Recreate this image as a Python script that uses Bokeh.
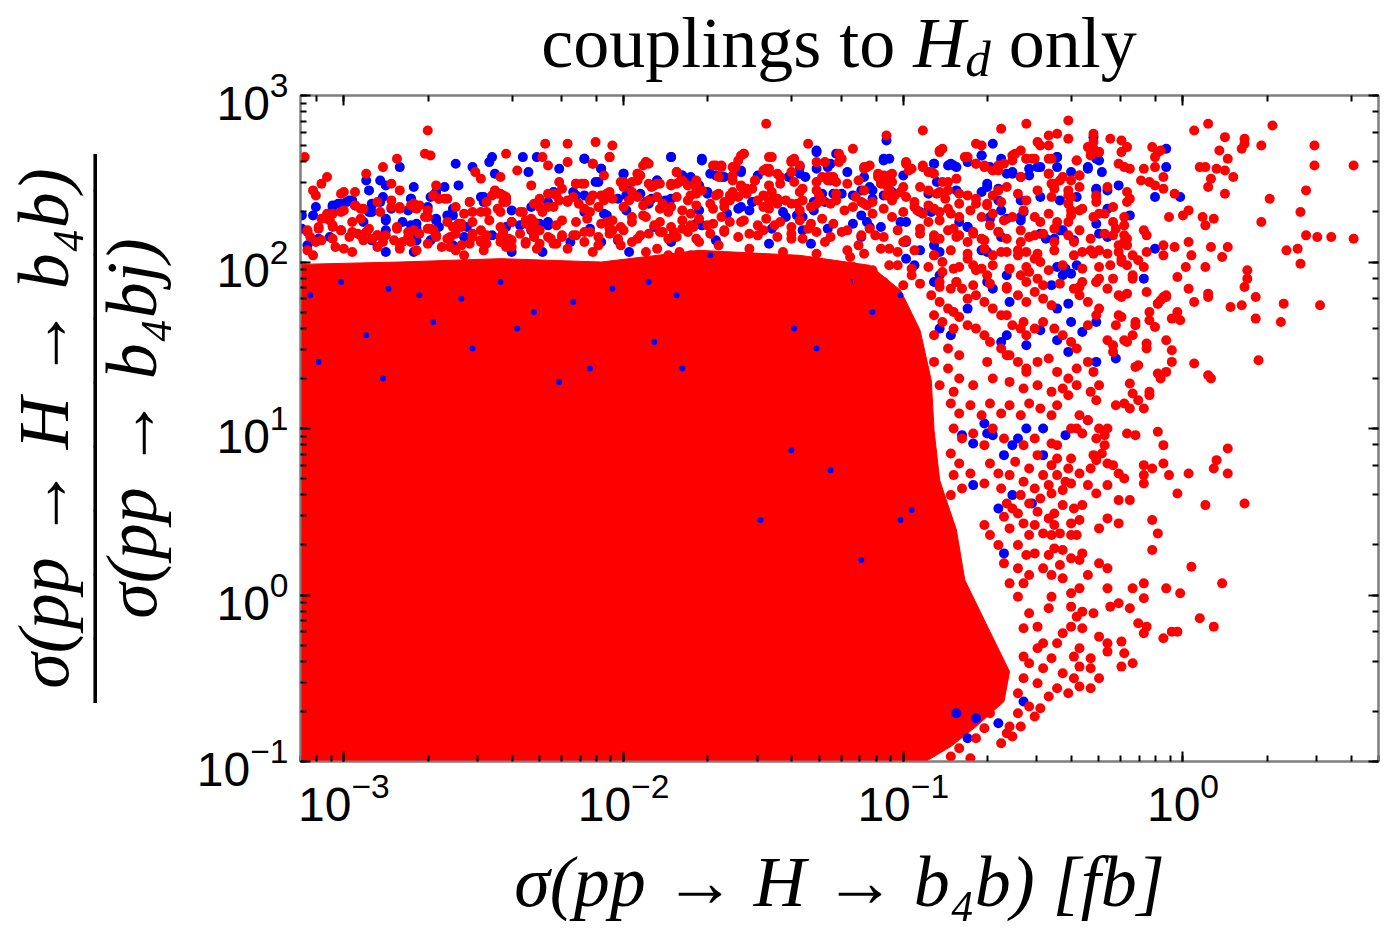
from bokeh.plotting import figure
from bokeh.models import LogAxis, Range1d, Div
from bokeh.layouts import column
from bokeh.embed import file_html
from bokeh.resources import INLINE

# ---- data: (log10 sigma [fb], log10 ratio) ----
core_outline = [(-3.3, -1.1), (-3.3, 1.98), (-2.80, 2.00), (-2.44, 2.02), (-2.08, 2.00), (-1.73, 2.07),
                (-1.37, 2.04), (-1.12, 1.98), (-1.01, 1.83), (-0.94, 1.59), (-0.90, 1.29), (-0.89, 0.99),
                (-0.87, 0.69), (-0.81, 0.39), (-0.78, 0.09), (-0.69, -0.22), (-0.62, -0.46), (-0.64, -0.64),
                (-0.74, -0.79), (-0.83, -0.91), (-0.92, -1.00), (-0.96, -1.1)]

red_band_left = [(-2.70,2.79),(-2.71,2.65),(-2.69,2.64),(-3.14,2.63),(-2.81,2.62),(-2.86,2.57),(-2.28,2.71),(-2.20,2.71),(-2.10,2.72),(-2.04,2.70),(-2.42,2.65),(-2.29,2.63),(-2.27,2.58),(-2.20,2.60),(-2.11,2.59),(-2.05,2.63),(-1.92,2.60),(-1.91,2.59),(-1.93,2.58),(-1.81,2.54),(-2.92,2.53),(-3.06,2.51),(-3.08,2.47),(-3.11,2.43),(-3.10,2.40),(-3.01,2.41),(-3.00,2.42),(-2.96,2.42),(-2.83,2.47),(-2.80,2.43),(-2.67,2.46),(-2.53,2.54),(-2.51,2.50),(-2.44,2.51),(-2.38,2.55),(-2.33,2.46),(-2.46,2.43),(-2.44,2.41),(-2.43,2.40),(-2.23,2.48),(-2.22,2.44),(-2.17,2.47),(-2.15,2.47),(-2.11,2.40),(-2.08,2.40),(-2.05,2.42),(-2.01,2.48),(-2.00,2.45),(-1.97,2.42),(-1.94,2.52),(-1.95,2.53),(-1.89,2.46),(-1.87,2.47),(-1.83,2.46),(-1.80,2.48),(-1.77,2.46),(-1.76,2.40),(-1.74,2.44),(-1.79,2.31),(-1.76,2.29),(-1.87,2.32),(-1.84,2.30),(-1.97,2.27),(-1.93,2.28),(-2.06,2.24),(-2.04,2.19),(-2.12,2.30),(-2.14,2.32),(-2.20,2.36),(-2.24,2.40),(-2.25,2.33),(-2.30,2.38),(-2.27,2.33),(-2.29,2.30),(-2.37,2.30),(-2.33,2.26),(-2.35,2.23),(-2.32,2.24),(-2.44,2.30),(-2.43,2.36),(-2.51,2.30),(-2.49,2.30),(-2.55,2.36),(-2.57,2.29),(-2.59,2.23),(-2.58,2.21),(-2.68,2.40),(-2.66,2.38),(-2.64,2.38),(-2.75,2.35),(-2.76,2.34),(-2.74,2.32),(-2.83,2.37),(-2.80,2.32),(-2.88,2.36),(-2.87,2.30),(-2.93,2.32),(-2.96,2.34),(-2.94,2.26),(-3.01,2.30),(-3.04,2.29),(-3.06,2.26),(-3.05,2.25),(-3.09,2.20),(-3.13,2.18),(-3.13,2.07),(-3.11,2.04),(-3.04,2.21),(-3.01,2.19),(-3.04,2.14),(-3.00,2.08),(-2.97,2.06),(-2.97,2.18),(-2.94,2.16),(-2.92,2.18),(-2.90,2.14),(-2.88,2.16),(-2.86,2.12),(-2.85,2.16),(-2.81,2.20),(-2.77,2.18),(-2.79,2.12),(-2.80,2.08),(-2.75,2.19),(-2.76,2.12),(-2.74,2.07),(-2.71,2.27),(-2.69,2.20),(-2.67,2.16),(-2.63,2.14),(-2.62,2.09),(-2.60,2.07),(-2.58,2.10),(-2.57,2.04),(-2.54,2.15),(-2.51,2.12),(-2.49,2.16),(-2.50,2.07),(-2.43,2.18),(-2.41,2.14),(-2.40,2.09),(-2.44,2.12),(-2.33,2.20),(-2.32,2.16),(-2.35,2.11),(-2.31,2.08),(-2.26,2.14),(-2.24,2.11),(-2.22,2.16),(-2.20,2.08),(-2.17,2.16),(-2.14,2.12),(-2.12,2.18),(-2.09,2.10),(-2.11,2.06),(-2.05,2.20),(-2.02,2.14),(-2.01,2.10),(-1.97,2.12),(-1.94,2.16),(-1.89,2.22),(-1.87,2.18),(-1.84,2.14),(-1.82,2.18),(-1.79,2.20),(-1.75,2.21),(-1.92,2.06),(-1.88,2.08),(-1.84,2.04),(-1.80,2.06),(-1.76,2.04),(-1.74,2.34),(-1.73,2.12)]

red_band_left_dense = [(-3.00,2.31),(-3.06,2.29),(-3.08,2.26),(-2.94,2.32),(-2.83,2.33),(-2.80,2.33),(-2.75,2.35),(-2.73,2.34),(-2.70,2.31),(-2.68,2.40),(-2.66,2.38),(-2.63,2.38),(-2.70,2.27),(-2.60,2.33),(-2.55,2.36),(-2.49,2.36),(-2.54,2.30),(-2.47,2.40),(-2.45,2.41),(-2.42,2.39),(-2.42,2.36),(-2.45,2.32),(-2.36,2.30),(-2.32,2.35),(-2.30,2.33),(-2.27,2.41),(-2.25,2.41),(-2.23,2.37),(-2.20,2.37),
                       (-3.13,2.19),(-3.09,2.21),(-3.04,2.22),(-3.01,2.19),(-2.97,2.24),(-2.91,2.20),(-2.81,2.21),(-2.70,2.20),(-2.68,2.19),(-2.63,2.24),(-2.61,2.21),(-2.58,2.23),(-2.54,2.24),(-2.51,2.19),(-2.48,2.25),(-2.44,2.21),(-2.40,2.24),(-2.35,2.25),(-2.32,2.21),(-2.30,2.19),(-2.24,2.22),(-2.22,2.25),
                       (-3.12,2.15),(-3.10,2.12),(-3.08,2.13),(-3.03,2.09),(-2.98,2.15),(-2.95,2.17),(-2.93,2.13),(-2.88,2.16),(-2.88,2.09),(-2.82,2.13),(-2.80,2.11),(-2.77,2.15),(-2.73,2.17),(-2.70,2.11),(-2.67,2.15),(-2.65,2.09),(-2.62,2.15),(-2.60,2.17),(-2.55,2.11),(-2.54,2.17),(-2.51,2.13),(-2.49,2.11),(-2.44,2.15),(-2.42,2.09),(-2.40,2.13),(-2.37,2.17),(-2.35,2.12),(-2.32,2.15),(-2.30,2.11),(-2.27,2.15),(-2.25,2.11),(-2.22,2.15)]

red_band_mid = [(-1.49,2.83),(-0.93,2.79),(-1.06,2.76),(-1.34,2.71),(-1.18,2.68),(-0.74,2.71),(-0.72,2.70),(-0.86,2.68),(-0.87,2.66),(-1.57,2.65),(-1.59,2.61),(-1.60,2.57),(-1.47,2.63),(-1.39,2.62),(-1.40,2.60),(-1.22,2.62),(-1.23,2.60),(-1.28,2.60),(-1.67,2.58),(-1.65,2.57),(-1.49,2.56),(-1.48,2.54),(-1.44,2.51),(-1.40,2.54),(-1.39,2.48),(-1.13,2.57),(-1.14,2.56),(-1.09,2.53),(-1.08,2.49),(-0.99,2.60),(-0.98,2.55),(-0.93,2.58),(-0.91,2.54),(-0.89,2.53),(-1.05,2.52),(-1.04,2.48),(-1.06,2.46),(-0.78,2.63),(-0.74,2.59),(-0.71,2.57),(-0.68,2.55),(-0.66,2.58),(-0.86,2.48),(-0.84,2.43),(-0.87,2.42),(-0.85,2.38),(-1.61,2.52),(-1.58,2.46),(-1.56,2.44),(-1.53,2.49),(-1.54,2.44),(-1.67,2.40),(-1.68,2.32),(-1.64,2.36),(-1.62,2.40),(-1.61,2.42),(-1.50,2.40),(-1.47,2.42),(-1.45,2.38),(-1.47,2.37),(-1.48,2.32),(-1.40,2.35),(-1.37,2.31),(-1.36,2.44),(-1.31,2.43),(-1.30,2.40),(-1.27,2.49),(-1.25,2.51),(-1.24,2.41),(-1.17,2.39),(-1.15,2.36),(-1.13,2.34),(-1.11,2.36),(-1.06,2.40),(-1.05,2.43),(-1.03,2.40),(-1.01,2.42),(-0.96,2.36),(-0.95,2.31),(-0.91,2.34),(-0.87,2.30),(-0.84,2.32),(-0.80,2.35),(-0.77,2.40),(-0.74,2.38),(-0.70,2.34),(-0.68,2.40),(-0.65,2.36),(-0.94,2.20),(-0.91,2.24),(-0.89,2.16),(-0.87,2.14),(-0.82,2.20),(-0.80,2.16),(-0.77,2.12),(-0.75,2.18),(-0.72,2.14),(-0.69,2.22),(-0.66,2.18),(-0.77,2.02),(-0.75,1.98),(-0.72,1.96),(-0.70,1.92),(-0.68,2.04),(-0.81,1.88),(-0.79,1.84),(-0.77,1.78),(-0.74,1.80),(-0.71,1.76),(-0.68,1.72),(-0.65,1.68),(-0.58,1.60),(-0.56,1.56),(-0.82,1.70),(-0.80,1.67),(-0.77,1.62),(-0.74,1.60),(-0.71,1.56),(-0.69,1.52),(-0.65,1.48),(-0.62,1.44),(-0.56,1.34),(-0.89,2.04),(-0.86,2.00),(-0.82,1.96),(-0.87,1.88),(-0.83,1.84),(-0.90,1.80),(-0.87,1.76),(-0.84,1.72),(-0.89,1.68),(-0.86,1.64),(-0.82,1.60),(-0.89,1.56),(-0.84,1.48),(-0.80,1.44),(-0.89,1.40),(-0.84,1.36),(-0.80,1.30),(-0.75,1.26),(-0.87,1.26),(-0.82,1.22),(-0.70,1.40),(-0.68,1.30),(-1.70,2.22),(-1.64,2.18),(-1.58,2.24),(-1.52,2.16),(-1.46,2.22),(-1.40,2.14),(-1.34,2.20),(-1.28,2.12),(-1.22,2.18),(-1.16,2.10),(-1.10,2.16),(-1.05,2.08),(-1.66,2.10),(-1.55,2.08),(-1.43,2.06),(-1.31,2.05),(-1.19,2.03),(-1.00,2.12),(-1.02,1.98),(-0.97,1.92)]

red_band_mid_dense = [(-2.05,2.63),(-2.11,2.59),(-1.92,2.60),(-1.95,2.53),(-1.81,2.54),(-1.68,2.58),(-1.65,2.58),(-1.61,2.57),(-1.58,2.64),(-1.57,2.65),(-1.48,2.63),(-1.50,2.55),(-1.48,2.56),(-1.45,2.53),(-1.40,2.61),(-1.37,2.58),(-1.31,2.60),(-1.27,2.51),
                      (-2.17,2.47),(-2.14,2.47),(-2.07,2.52),(-2.00,2.48),(-1.97,2.48),(-1.95,2.49),(-1.91,2.47),(-1.90,2.45),(-1.88,2.47),(-1.83,2.47),(-1.81,2.47),(-1.79,2.49),(-1.74,2.49),(-1.74,2.47),(-1.66,2.51),(-1.66,2.41),(-1.61,2.49),(-1.58,2.45),(-1.57,2.42),(-1.53,2.49),(-1.48,2.46),(-1.44,2.47),(-1.37,2.42),(-1.31,2.48),(-1.29,2.51),(-1.26,2.51),(-1.24,2.48),
                      (-2.18,2.39),(-2.16,2.35),(-2.12,2.37),(-2.09,2.33),(-2.07,2.37),(-2.06,2.41),(-2.04,2.38),(-2.00,2.33),(-1.98,2.37),(-1.95,2.39),(-1.93,2.34),(-1.91,2.37),(-1.88,2.39),(-1.86,2.35),(-1.83,2.33),(-1.81,2.39),(-1.77,2.37),(-1.74,2.41),(-1.72,2.43),(-1.69,2.35),(-1.64,2.33),(-1.62,2.37),(-1.59,2.39),(-1.56,2.41),(-1.52,2.37),(-1.50,2.33),(-1.48,2.37),(-1.45,2.35),(-1.42,2.37),(-1.38,2.35),(-1.36,2.37),(-1.33,2.33),(-1.31,2.35),(-1.29,2.37),(-1.26,2.35),(-1.24,2.37),
                      (-2.17,2.24),(-2.13,2.26),(-2.08,2.23),(-2.04,2.25),(-2.01,2.21),(-1.97,2.24),(-1.92,2.27),(-1.87,2.24),(-1.83,2.21),(-1.79,2.25),(-1.76,2.22),(-1.73,2.26),(-1.68,2.23),(-1.65,2.27),(-1.62,2.24),(-1.57,2.25),(-1.52,2.22),(-1.49,2.26),(-1.44,2.24),(-1.40,2.21),(-1.37,2.25),(-1.33,2.23),(-1.29,2.26),(-1.25,2.23),
                      (-2.18,2.16),(-2.14,2.18),(-2.09,2.15),(-2.05,2.17),(-2.00,2.19),(-1.95,2.14),(-1.91,2.17),(-1.86,2.18),(-1.81,2.15),(-1.77,2.18),(-1.74,2.14),(-1.69,2.17),(-1.64,2.19),(-1.59,2.15),(-1.55,2.17),(-1.50,2.19),(-1.45,2.15),(-1.40,2.17),(-1.36,2.14),(-1.31,2.18),(-1.26,2.15)]

red_band_right_dense = [(-1.23,2.65),(-1.14,2.57),(-1.12,2.58),(-1.07,2.52),(-1.04,2.53),(-1.05,2.48),(-0.99,2.59),(-0.97,2.56),(-0.93,2.57),(-0.90,2.54),(-0.87,2.67),(-0.77,2.63),(-0.74,2.59),(-0.71,2.58),(-0.66,2.55),(-0.64,2.59),(-0.61,2.64),(-0.56,2.62),(-0.53,2.62),(-0.58,2.51),(-0.47,2.62),(-0.48,2.53),(-0.46,2.47),(-0.38,2.61),(-0.37,2.52),(-0.33,2.67),(-0.30,2.66),
                        (-1.20,2.47),(-1.16,2.49),(-1.14,2.43),(-1.09,2.51),(-1.08,2.47),(-1.05,2.41),(-1.04,2.37),(-1.00,2.45),(-0.99,2.39),(-0.94,2.45),(-0.91,2.43),(-0.88,2.41),(-0.84,2.48),(-0.81,2.50),(-0.80,2.41),(-0.74,2.35),(-0.70,2.35),(-0.66,2.43),(-0.63,2.45),(-0.59,2.41),(-0.56,2.37),(-0.52,2.43),(-0.47,2.39),(-0.41,2.43),(-0.40,2.39),(-0.37,2.45),(-0.31,2.39),(-0.27,2.45),
                        (-1.21,2.31),(-1.18,2.33),(-1.14,2.35),(-1.11,2.29),(-1.07,2.32),(-1.04,2.27),(-1.00,2.30),(-0.96,2.33),(-0.93,2.29),(-0.89,2.32),(-0.87,2.25),(-0.83,2.29),(-0.80,2.27),(-0.76,2.31),(-0.72,2.27),(-0.68,2.29),(-0.64,2.25),(-0.61,2.27),(-0.57,2.31),(-0.53,2.27),(-0.48,2.29),(-0.45,2.24),(-0.40,2.28),(-0.37,2.31),(-0.32,2.27),(-0.28,2.29),
                        (-1.20,2.19),(-1.15,2.16),(-1.12,2.20),(-1.07,2.15),(-1.02,2.19),(-0.99,2.13),(-0.94,2.17),(-0.89,2.14),(-0.84,2.19),(-0.81,2.15),(-0.75,2.17),(-0.71,2.13),(-0.66,2.18),(-0.63,2.14),(-0.58,2.19),(-0.55,2.15),(-0.50,2.17),(-0.46,2.12),(-0.41,2.16),(-0.37,2.19),(-0.33,2.14),(-0.28,2.17),
                        (-1.20,2.07),(-1.14,2.05),(-1.08,2.08),(-1.02,2.06),(-0.96,2.07),(-0.89,2.04),(-0.83,2.07),(-0.77,2.05),(-0.71,2.08),(-0.65,2.06),(-0.59,2.07),(-0.52,2.05),(-0.46,2.07),(-0.39,2.04),(-0.33,2.07),(-0.27,2.05),
                        (-1.18,1.97),(-1.11,1.95),(-1.05,1.98),(-0.97,1.96),(-0.91,1.97),(-0.86,1.94),(-0.80,1.97),(-0.74,1.95),(-0.68,1.98),(-0.62,1.96),(-0.56,1.97),(-0.48,1.95),(-0.43,1.98),(-0.36,1.96),(-0.30,1.97),
                        (-1.20,1.87),(-1.13,1.85),(-1.07,1.88),(-1.00,1.86),(-0.94,1.87),(-0.87,1.85),(-0.81,1.88),(-0.75,1.86),(-0.69,1.87),(-0.63,1.85),(-0.56,1.88),(-0.50,1.86),(-0.44,1.87),(-0.37,1.85),(-0.31,1.88)]

red_upper_right = [(-0.56,2.83),(-0.41,2.85),(-0.48,2.76),(-0.45,2.77),(-0.41,2.74),(-0.52,2.72),(-0.51,2.70),(-0.48,2.70),(-0.32,2.77),(-0.32,2.72),(-0.32,2.68),(-0.34,2.69),(-0.33,2.64),(-0.30,2.66),(-0.26,2.74),(-0.22,2.73),(-0.20,2.69),(-0.22,2.66),(-0.11,2.69),(-0.09,2.66),(-0.08,2.67),(-0.10,2.63),(-0.65,2.80),(-0.60,2.65),(-0.58,2.67),(-0.56,2.62),(-0.54,2.62),(-0.61,2.61),(-0.48,2.62),(-0.48,2.53),(-0.44,2.49),(-0.43,2.51),(-0.47,2.47),(-0.46,2.44),(-0.38,2.61),(-0.37,2.52),(-0.40,2.49),(-0.23,2.59),(-0.21,2.57),(-0.19,2.56),(-0.14,2.56),(-0.15,2.49),(-0.12,2.48),(-0.10,2.46),(-0.07,2.51),(-0.07,2.44),(-0.10,2.57),(-0.20,2.42),(-0.19,2.38),(-0.20,2.36),(-0.25,2.33),(-0.30,2.29),(-0.03,2.41),(-0.31,2.40),(-0.31,2.36),(-0.41,2.35),(-0.41,2.40),(-0.40,2.31),(-0.36,2.32),(-0.21,2.27),(-0.21,2.22),(-0.21,2.16),(-0.20,2.14),(-0.21,2.12),(-0.20,2.10),(-0.14,2.19),(-0.13,2.16),(-0.13,2.06),(-0.18,2.04),(-0.16,2.01),(-0.14,1.97),(-0.22,2.00),(-0.20,1.98),(-0.18,1.92),(-0.18,1.90),(-0.25,2.24),(-0.24,2.20),(-0.25,2.16),(-0.23,2.10),(-0.23,2.06),(-0.22,2.02),(-0.30,2.07),(-0.26,1.98),(-0.32,2.05),(-0.30,1.90),(-0.31,1.88),(-0.27,1.84),(-0.25,1.90),(-0.23,1.80),(-0.22,1.79),(-0.20,1.81),(-0.13,1.82),(-0.09,1.75),(-0.07,1.79),(-0.06,1.79),(-0.23,1.68),(-0.22,1.67),(-0.24,1.62),(-0.30,1.72),(-0.31,1.68),(-0.34,1.62),(-0.27,1.53),(-0.25,1.50),(-0.25,1.46),(-0.18,1.56),(-0.21,1.53),(-0.20,1.52),(-0.63,2.06),(-0.59,2.04),(-0.56,2.06),(-0.53,2.02),(-0.51,2.00),(-0.62,1.96),(-0.58,1.92),(-0.55,1.94),(-0.52,1.90),(-0.63,1.84),(-0.59,1.80),(-0.56,1.76),(-0.53,1.82),(-0.50,1.78),(-0.47,1.74),(-0.39,1.84),(-0.37,1.80),(-0.34,1.76),(-0.36,1.88),(-0.63,1.68),(-0.61,1.62),(-0.57,1.64),(-0.53,1.60),(-0.50,1.64),(-0.46,1.60),(-0.43,1.56),(-0.40,1.52),(-0.38,1.48),(-0.63,1.44),(-0.59,1.40),(-0.56,1.36),(-0.52,1.40),(-0.48,1.42),(-0.45,1.34),(-0.41,1.30),(-0.38,1.36),(-0.34,1.40),(-0.32,1.34),(-0.62,1.28),(-0.57,1.24),(-0.52,1.26),(-0.47,1.22),(-0.43,1.24),(-0.38,1.26),(-0.33,1.22),(-0.30,1.26),(-0.46,2.20),(-0.41,2.24),(-0.39,2.12),(-0.36,2.06),(-0.51,2.24),(-0.53,2.16),(-0.58,2.12)]

red_far_right = [(0.04,2.79),(0.09,2.83),(0.32,2.82),(0.15,2.75),(0.22,2.74),(0.22,2.71),(0.21,2.68),(0.28,2.70),(0.47,2.70),(0.13,2.67),(0.16,2.62),(0.06,2.57),(0.08,2.57),(0.12,2.56),(0.15,2.55),(0.18,2.51),(0.10,2.50),(0.47,2.58),(0.61,2.58),(0.09,2.45),(0.15,2.41),(0.44,2.43),(0.31,2.38),(0.02,2.31),(0.00,2.28),(0.07,2.27),(0.11,2.26),(0.08,2.22),(-0.05,2.27),(0.42,2.30),(0.28,2.24),(0.44,2.16),(0.48,2.15),(0.53,2.15),(0.61,2.14),(0.02,2.12),(0.10,2.09),(0.16,2.09),(-0.03,2.09),(-0.07,2.10),(-0.07,2.04),(0.03,2.04),(0.14,2.03),(0.37,2.07),(0.41,2.08),(0.42,1.99),(0.01,1.97),(0.08,1.97),(-0.02,1.91),(0.23,1.95),(0.23,1.90),(0.22,1.85),(0.02,1.84),(0.09,1.81),(0.09,1.79),(0.04,1.76),(0.26,1.79),(0.17,1.73),(0.21,1.74),(0.36,1.75),(0.49,1.74),(0.26,1.66),(0.35,1.64),(-0.06,1.80),(-0.08,1.77),(-0.09,1.75),(-0.02,1.70),(-0.01,1.65),(-0.04,1.66),(-0.12,1.70),(-0.12,1.65),(-0.17,1.64),(-0.17,1.62),(-0.10,1.61),(-0.06,1.53),(-0.04,1.47),(-0.04,1.40),(0.04,1.39),(0.27,1.41),(0.09,1.32),(0.10,1.30),(-0.06,1.34),(-0.09,1.33),(-0.08,1.30),(-0.17,1.37),(-0.16,1.38),(-0.13,1.51),(-0.13,1.48),(-0.19,1.27),(-0.12,1.22),(-0.18,1.21)]

red_lower_right = [(-0.31,1.17),(-0.24,1.14),(-0.21,1.15),(-0.19,1.12),(-0.16,1.17),(-0.14,1.12),(-0.12,1.20),(-0.41,1.20),(-0.37,1.08),(-0.34,1.05),(-0.38,1.00),(-0.30,1.00),(-0.27,1.00),(-0.28,0.96),(-0.31,0.94),(-0.20,0.97),(-0.17,0.96),(-0.09,0.98),(0.16,0.88),(-0.07,0.90),(-0.28,0.90),(-0.29,0.85),(-0.32,0.84),(-0.31,0.81),(-0.40,1.00),(-0.36,0.97),(-0.45,0.90),(-0.47,0.91),(-0.40,0.82),(-0.45,0.82),(-0.47,0.78),(-0.41,0.76),(-0.37,0.73),(-0.33,0.76),(-0.27,0.79),(-0.25,0.78),(-0.23,0.73),(-0.21,0.70),(-0.14,0.78),(-0.14,0.72),(-0.14,0.67),(-0.11,0.76),(-0.07,0.79),(-0.05,0.72),(0.02,0.73),(0.12,0.81),(0.11,0.76),(0.16,0.73),(-0.02,0.61),(0.08,0.54),(0.22,0.55),(-0.23,0.57),(-0.19,0.57),(-0.31,0.61),(-0.27,0.66),(-0.34,0.66),(-0.43,0.63),(-0.40,0.67),(-0.36,0.54),(-0.47,0.61),(-0.51,0.58),(-0.55,0.55),(-0.43,0.54),(-0.39,0.52),(-0.37,0.45),(-0.40,0.43),(-0.46,0.49),(-0.48,0.46),(-0.50,0.37),(-0.47,0.36),(-0.44,0.37),(-0.40,0.36),(-0.38,0.36),(-0.36,0.25),(-0.27,0.46),(-0.23,0.43),(-0.30,0.40),(-0.11,0.45),(-0.09,0.37),(-0.11,0.27),(0.03,0.17),(-0.27,0.16),(-0.30,0.19),(-0.34,0.12),(-0.37,0.21),(-0.40,0.22),(-0.43,0.27),(-0.46,0.28),(-0.48,0.24),(-0.53,0.25),(-0.55,0.12),(-0.50,0.16),(-0.44,0.18),(-0.47,0.12),(-0.43,0.10),(-0.37,0.04),(-0.40,0.01),(-0.27,0.04),(-0.26,-0.07),(-0.23,-0.05),(-0.19,-0.08),(-0.18,0.04),(-0.14,0.07),(-0.14,-0.02),(-0.06,0.04),(-0.01,0.01),(0.14,0.07),(0.06,-0.14),(0.11,-0.19),(-0.16,-0.17),(-0.13,-0.19),(-0.14,-0.23),(-0.04,-0.22),(-0.07,-0.26),(-0.02,-0.22),(-0.30,-0.25),(-0.27,-0.29),(-0.22,-0.28),(-0.27,-0.34),(-0.21,-0.35),(-0.32,-0.11),(-0.36,-0.10),(-0.38,-0.13),(-0.36,-0.20),(-0.40,-0.07),(-0.47,-0.01),(-0.48,-0.08),(-0.40,-0.19),(-0.43,-0.23),(-0.45,-0.29),(-0.37,-0.32),(-0.39,-0.37),(-0.33,-0.38),(-0.37,-0.43),(-0.33,-0.44),(-0.22,-0.43),(-0.18,-0.41),(-0.43,-0.47),(-0.39,-0.50),(-0.37,-0.55),(-0.33,-0.56),(-0.30,-0.50),(-0.47,-0.38),(-0.50,-0.44),(-0.52,-0.53),(-0.48,-0.61),(-0.45,-0.56),(-0.41,-0.59),(-0.55,-0.67),(-0.51,-0.68),(-0.53,-0.73),(-0.59,-0.71),(-0.62,-0.79),(-0.58,-0.79),(-0.65,-0.89),(-0.63,-0.83),(-0.61,-0.85),(-0.76,-0.98),(-0.83,-0.97),(-0.69,0.79),(-0.66,0.73),(-0.71,0.67),(-0.65,0.64),(-0.63,0.55),(-0.59,0.49),(-0.57,0.43),(-0.55,0.36),(-0.59,0.30),(-0.56,0.24),(-0.71,0.42),(-0.69,0.36),(-0.66,0.30),(-0.64,0.19),(-0.59,0.16),(-0.57,0.07),(-0.62,0.07),(-0.59,-0.01),(-0.55,-0.11),(-0.52,-0.19),(-0.57,-0.20),(-0.50,-0.29),(-0.52,-0.32),(-0.57,-0.37),(-0.55,-0.41),(-0.57,-0.50),(-0.59,-0.59),(-0.69,-0.71),(-0.71,-0.80),(-0.74,-0.86),(-0.80,-0.92),(-0.83,1.15),(-0.80,1.09),(-0.76,1.14),(-0.72,1.08),(-0.69,1.15),(-0.65,1.09),(-0.62,1.14),(-0.58,1.08),(-0.55,1.15),(-0.51,1.12),(-0.47,1.08),(-0.45,1.14),(-0.82,1.00),(-0.79,0.94),(-0.75,0.97),(-0.71,0.90),(-0.68,1.00),(-0.64,0.94),(-0.57,0.90),(-0.53,0.94),(-0.52,0.84),(-0.83,0.85),(-0.80,0.79),(-0.76,0.73),(-0.82,0.72),(-0.79,0.64),(-0.83,0.60),(-0.60,0.80),(-0.55,0.76),(-0.50,0.72),(-0.57,0.68),(-0.53,0.64),(-0.62,0.72),(-0.48,0.66),(-0.45,0.72),(-0.42,0.68),(-0.58,0.60),(-0.61,0.52),(-0.52,0.50),(-0.46,0.42),(-0.53,0.42),(-0.62,0.40),(-0.64,0.47)]

blue_band = [(-1.83,2.63),(-2.60,2.59),(-2.54,2.57),(-2.48,2.60),(-2.47,2.63),(-2.36,2.63),(-2.31,2.63),(-2.23,2.56),(-2.14,2.62),(-2.08,2.56),(-2.09,2.48),(-2.34,2.54),(-2.46,2.53),(-2.80,2.57),(-2.92,2.49),(-2.91,2.43),(-2.87,2.49),(-2.85,2.46),(-2.75,2.45),(-2.64,2.45),(-2.59,2.46),(-2.67,2.42),(-2.76,2.38),(-2.86,2.39),(-2.97,2.37),(-2.99,2.36),(-3.02,2.35),(-3.04,2.33),(-3.10,2.33),(-3.11,2.28),(-2.83,2.32),(-2.85,2.26),(-2.90,2.34),(-2.90,2.30),(-2.74,2.23),(-2.74,2.20),(-2.67,2.25),(-2.63,2.28),(-2.61,2.32),(-2.51,2.39),(-2.50,2.36),(-2.42,2.38),(-2.40,2.24),(-2.37,2.22),(-2.30,2.23),(-2.27,2.22),(-2.25,2.42),(-2.18,2.42),(-2.17,2.40),(-2.14,2.40),(-2.02,2.38),(-2.00,2.53),(-1.99,2.31),(-1.92,2.36),(-1.90,2.38),(-1.86,2.36),(-1.83,2.38),(-1.88,2.49),(-1.79,2.52),(-1.74,2.23),(-1.98,2.06),(-2.08,2.12),(-2.19,2.12),(-2.29,2.06),(-2.40,2.06),(-2.61,2.10),(-2.75,2.06),(-2.85,2.06),(-3.09,2.14),(-3.13,2.10),(-3.15,2.28),(-3.15,2.20),
              (-1.72,2.62),(-1.31,2.66),(-1.06,2.73),(-1.24,2.65),(-1.07,2.62),(-0.68,2.71),(-0.65,2.62),(-1.37,2.57),(-1.31,2.56),(-1.27,2.57),(-1.26,2.49),(-1.20,2.54),(-1.14,2.51),(-1.11,2.43),(-1.04,2.42),(-1.07,2.40),(-1.00,2.52),(-0.89,2.59),(-0.90,2.30),(-0.84,2.58),(-0.82,2.58),(-0.77,2.60),(-0.72,2.64),(-0.70,2.47),(-0.66,2.44),(-1.73,2.46),(-1.70,2.42),(-1.73,2.31),(-1.69,2.53),(-1.65,2.51),(-1.58,2.54),(-1.52,2.52),(-1.54,2.36),(-1.59,2.32),(-1.43,2.30),(-1.38,2.28),(-1.28,2.36),(-1.32,2.36),(-1.18,2.40),(-1.15,2.28),(-1.13,2.24),(-1.12,2.21),(-1.01,2.24),(-0.99,2.12),(-0.94,2.30),(-0.89,2.10),(-0.87,2.06),(-0.80,2.24),(-0.77,2.21),(-0.69,2.26),(-0.65,2.31),(-0.71,2.08),(-0.70,2.06),(-0.99,2.02),(-0.96,1.98),(-0.89,1.88),(-0.87,1.92),(-0.87,1.60),(-0.83,1.56),(-0.77,1.72),(-0.70,1.88),(-0.68,1.84),(-0.65,1.52),(-0.63,1.56),(-0.56,1.50),
              (-0.32,2.75),(-0.45,2.63),(-0.52,2.57),(-0.55,2.56),(-0.61,2.53),(-0.58,2.51),(-0.45,2.57),(-0.34,2.56),(-0.31,2.62),(-0.29,2.54),(-0.27,2.43),(-0.31,2.43),(-0.23,2.46),(-0.06,2.68),(-0.06,2.57),(-0.10,2.39),(-0.01,2.39),(-0.19,2.28),(-0.27,2.32),(-0.31,2.23),(-0.43,2.19),(-0.57,2.30),(-0.58,2.25),(-0.63,2.26),(-0.49,2.14),(-0.46,2.14),(-0.42,1.96),(-0.43,1.92),(-0.38,1.98),(-0.47,1.86),(-0.14,1.90),(-0.10,2.08),(-0.27,2.15),(-0.63,1.92),(-0.40,1.64),(-0.41,1.75),(-0.31,1.64),(-0.36,1.58),(-0.24,1.42),(-0.41,1.46),(-0.45,1.53),(-0.51,1.59),(-0.62,1.76),(-0.45,1.72),(-0.31,1.40)]

blue_band_dense = [(-3.04,2.34),(-3.01,2.35),(-2.98,2.37),(-2.96,2.34),(-2.90,2.35),(-2.87,2.36),(-2.91,2.30),(-2.76,2.38),(-2.77,2.31),(-2.70,2.33),(-2.69,2.39),(-2.67,2.26),(-2.61,2.28),(-2.50,2.39),(-2.40,2.31),(-2.33,2.33),(-2.27,2.36),(-2.93,2.24),(-2.85,2.25),(-2.79,2.24),(-2.76,2.22),(-2.66,2.21),(-2.56,2.21),(-2.42,2.21),(-2.27,2.24),(-3.05,2.15),(-2.90,2.13),(-2.85,2.19),(-2.75,2.17),(-2.74,2.13),(-2.69,2.13),(-2.57,2.15),(-2.47,2.16),(-2.33,2.19),
                   (-2.14,2.62),(-2.08,2.56),(-2.00,2.53),(-1.83,2.63),(-1.72,2.61),(-1.58,2.55),(-1.31,2.67),(-1.26,2.59),(-1.35,2.51),(-1.37,2.53),(-2.10,2.48),(-1.98,2.43),(-1.88,2.49),(-1.79,2.52),(-1.76,2.51),(-1.67,2.52),(-1.64,2.51),(-1.41,2.51),(-1.30,2.39),(-2.14,2.30),(-2.07,2.29),(-1.99,2.40),(-1.94,2.41),(-1.91,2.35),(-1.85,2.37),(-1.70,2.41),(-1.63,2.29),(-1.58,2.33),(-1.54,2.36),(-1.42,2.27),(-1.36,2.27),(-1.32,2.31),(-1.29,2.41),(-1.25,2.41),(-2.06,2.28),(-1.89,2.21),(-1.72,2.22),(-1.55,2.31),(-1.47,2.20),(-1.36,2.19),(-1.27,2.20),(-2.12,2.20),(-2.02,2.13),(-1.83,2.12),(-1.67,2.13),(-1.48,2.11),(-1.33,2.11),
                   (-1.07,2.61),(-1.05,2.62),(-0.89,2.59),(-0.83,2.59),(-0.81,2.57),(-0.72,2.64),(-0.69,2.57),(-0.63,2.53),(-0.61,2.54),(-0.55,2.52),(-0.51,2.57),(-0.45,2.63),(-0.40,2.54),(-0.34,2.57),(-0.30,2.61),(-1.22,2.41),(-1.15,2.43),(-1.12,2.45),(-1.11,2.38),(-0.91,2.41),(-0.88,2.48),(-0.81,2.43),(-0.72,2.42),(-0.70,2.45),(-0.66,2.37),(-0.58,2.37),(-0.51,2.39),(-0.44,2.37),(-0.38,2.39),(-0.31,2.44),(-1.18,2.23),(-1.08,2.21),(-0.99,2.24),(-0.91,2.31),(-0.77,2.21),(-0.69,2.27),(-0.58,2.27),(-0.51,2.17),(-0.44,2.19),(-0.39,2.13),(-0.30,2.17),(-1.15,2.15),(-0.94,2.07),(-0.72,2.07),(-0.65,2.15),(-0.45,1.97),(-0.40,1.93)]

blue_lower = [(-0.42,0.96),(-0.50,0.84),(-0.56,1.00),(-0.50,1.00),(-0.34,1.05),(-0.61,0.90),(-0.59,0.94),(-0.68,0.96),(-0.64,0.84),(-0.75,0.66),(-0.61,0.60),(-0.54,0.55),(-0.66,0.52),(-0.64,0.25),(-0.57,-0.64),(-0.74,-0.74),(-0.77,-0.86),(-0.66,-0.77),(-0.79,0.96),(-0.75,0.91),(-0.71,1.03),(-0.70,0.97),(-0.81,-0.71)]

blue_core = [(-3.12,1.80),(-3.01,1.88),(-2.84,1.84),(-2.73,1.80),(-2.58,1.78),(-2.44,1.88),(-2.32,1.70),(-2.18,1.76),(-2.04,1.84),(-1.91,1.88),(-1.81,1.80),(-3.09,1.40),(-2.92,1.56),(-2.68,1.64),(-2.54,1.48),(-2.38,1.60),(-2.12,1.36),(-1.89,1.52),(-1.79,1.36),(-2.86,1.30),(-2.23,1.28),(-1.69,2.04),(-1.39,1.60),(-1.31,1.48),(-1.19,1.88),(-1.01,1.80),(-1.11,1.70),(-1.40,0.87),(-1.26,0.75),(-1.51,0.45),(-1.15,0.21),(-1.01,0.45),(-0.97,0.51)]

x_range_fb = (7.0e-4, 5.0)
y_range_ratio = (0.1, 1000.0)

title_html = ('<div style="width:1078px;margin-left:300px;padding-top:7px;text-align:center;white-space:nowrap;'
              'font-family:\'Liberation Serif\',serif;font-size:72px;line-height:72px;color:#000">'
              'couplings to <i>H</i><sub style="font-size:51px;line-height:0;vertical-align:-9px;font-style:italic">d</sub> only</div>')
x_label = "σ(pp → H → b₄b) [fb]"
y_label = "σ(pp → H → b₄b)\n————————–\nσ(pp → b₄bj)"

RED = "#ff0000"
BLUE = "#0000ff"
DOT = 10


def unlog(pairs):
    return [10 ** a for a, b in pairs], [10 ** b for a, b in pairs]


TITLE_H = 80      # height of the title block
OVERLAP = 25      # the plot canvas slides under the title block by this much
FIG_TOP = TITLE_H - OVERLAP
p = figure(width=1381, height=939 - FIG_TOP, x_axis_type="log", y_axis_type="log",
           x_range=Range1d(*x_range_fb), y_range=Range1d(*y_range_ratio),
           output_backend="svg", toolbar_location=None,
           min_border_left=300, min_border_right=3, min_border_top=95 - FIG_TOP, min_border_bottom=178,
           background_fill_color="white", border_fill_color=None, outline_line_color="#7f7f7f",
           margin=(-OVERLAP, 0, 0, 0))
p.grid.visible = False
p.outline_line_width = 2

cx, cy = unlog(core_outline)
p.patch(cx, cy, fill_color=RED, line_color=RED, line_width=1)

bx, by = unlog(blue_core)
p.scatter(bx, by, size=6, marker="circle", fill_color=BLUE, line_color=None)
for grp in (blue_band, blue_band_dense, blue_lower):
    gx, gy = unlog(grp)
    p.scatter(gx, gy, size=DOT, marker="circle", fill_color=BLUE, line_color=None)
for grp in (red_band_left, red_band_left_dense, red_band_mid, red_band_mid_dense, red_band_right_dense,
            red_upper_right, red_far_right, red_lower_right):
    gx, gy = unlog(grp)
    p.scatter(gx, gy, size=DOT, marker="circle", fill_color=RED, line_color=None)


def style(ax, show_labels):
    ax.axis_line_color = "#7f7f7f"
    ax.axis_line_width = 2
    ax.major_tick_line_color = "black"
    ax.major_tick_line_width = 2
    ax.minor_tick_line_color = "black"
    ax.minor_tick_line_width = 2
    ax.major_tick_in = 10
    ax.major_tick_out = 0
    ax.minor_tick_in = 6
    ax.minor_tick_out = 0
    if show_labels:
        ax.major_label_text_font = "Liberation Sans"
        ax.major_label_text_font_size = "48px"
        ax.major_label_text_color = "black"
    else:
        ax.major_label_text_font_size = "2px"
        ax.major_label_text_alpha = 0.0
        ax.major_label_standoff = 0


xa = p.xaxis[0]
ya = p.yaxis[0]
style(xa, True)
style(ya, True)
xa.major_label_standoff = 10
ya.major_label_standoff = 12

xa.axis_label = x_label
xa.axis_label_text_font = "Liberation Serif"
xa.axis_label_text_font_style = "italic"
xa.axis_label_text_font_size = "72px"
xa.axis_label_text_color = "black"
xa.axis_label_standoff = 18

ya.axis_label = y_label
ya.axis_label_text_font = "Liberation Serif"
ya.axis_label_text_font_style = "italic"
ya.axis_label_text_font_size = "72px"
ya.axis_label_text_color = "black"
ya.axis_label_text_line_height = 0.55
ya.axis_label_standoff = 22

top_ax = LogAxis()
right_ax = LogAxis()
style(top_ax, False)
style(right_ax, False)
p.add_layout(top_ax, "above")
p.add_layout(right_ax, "right")

title_div = Div(text=title_html, width=1381, height=TITLE_H, margin=(0, 0, 0, 0))
layout = column(title_div, p, spacing=0)

open("out.html", "w").write(file_html(layout, INLINE))
